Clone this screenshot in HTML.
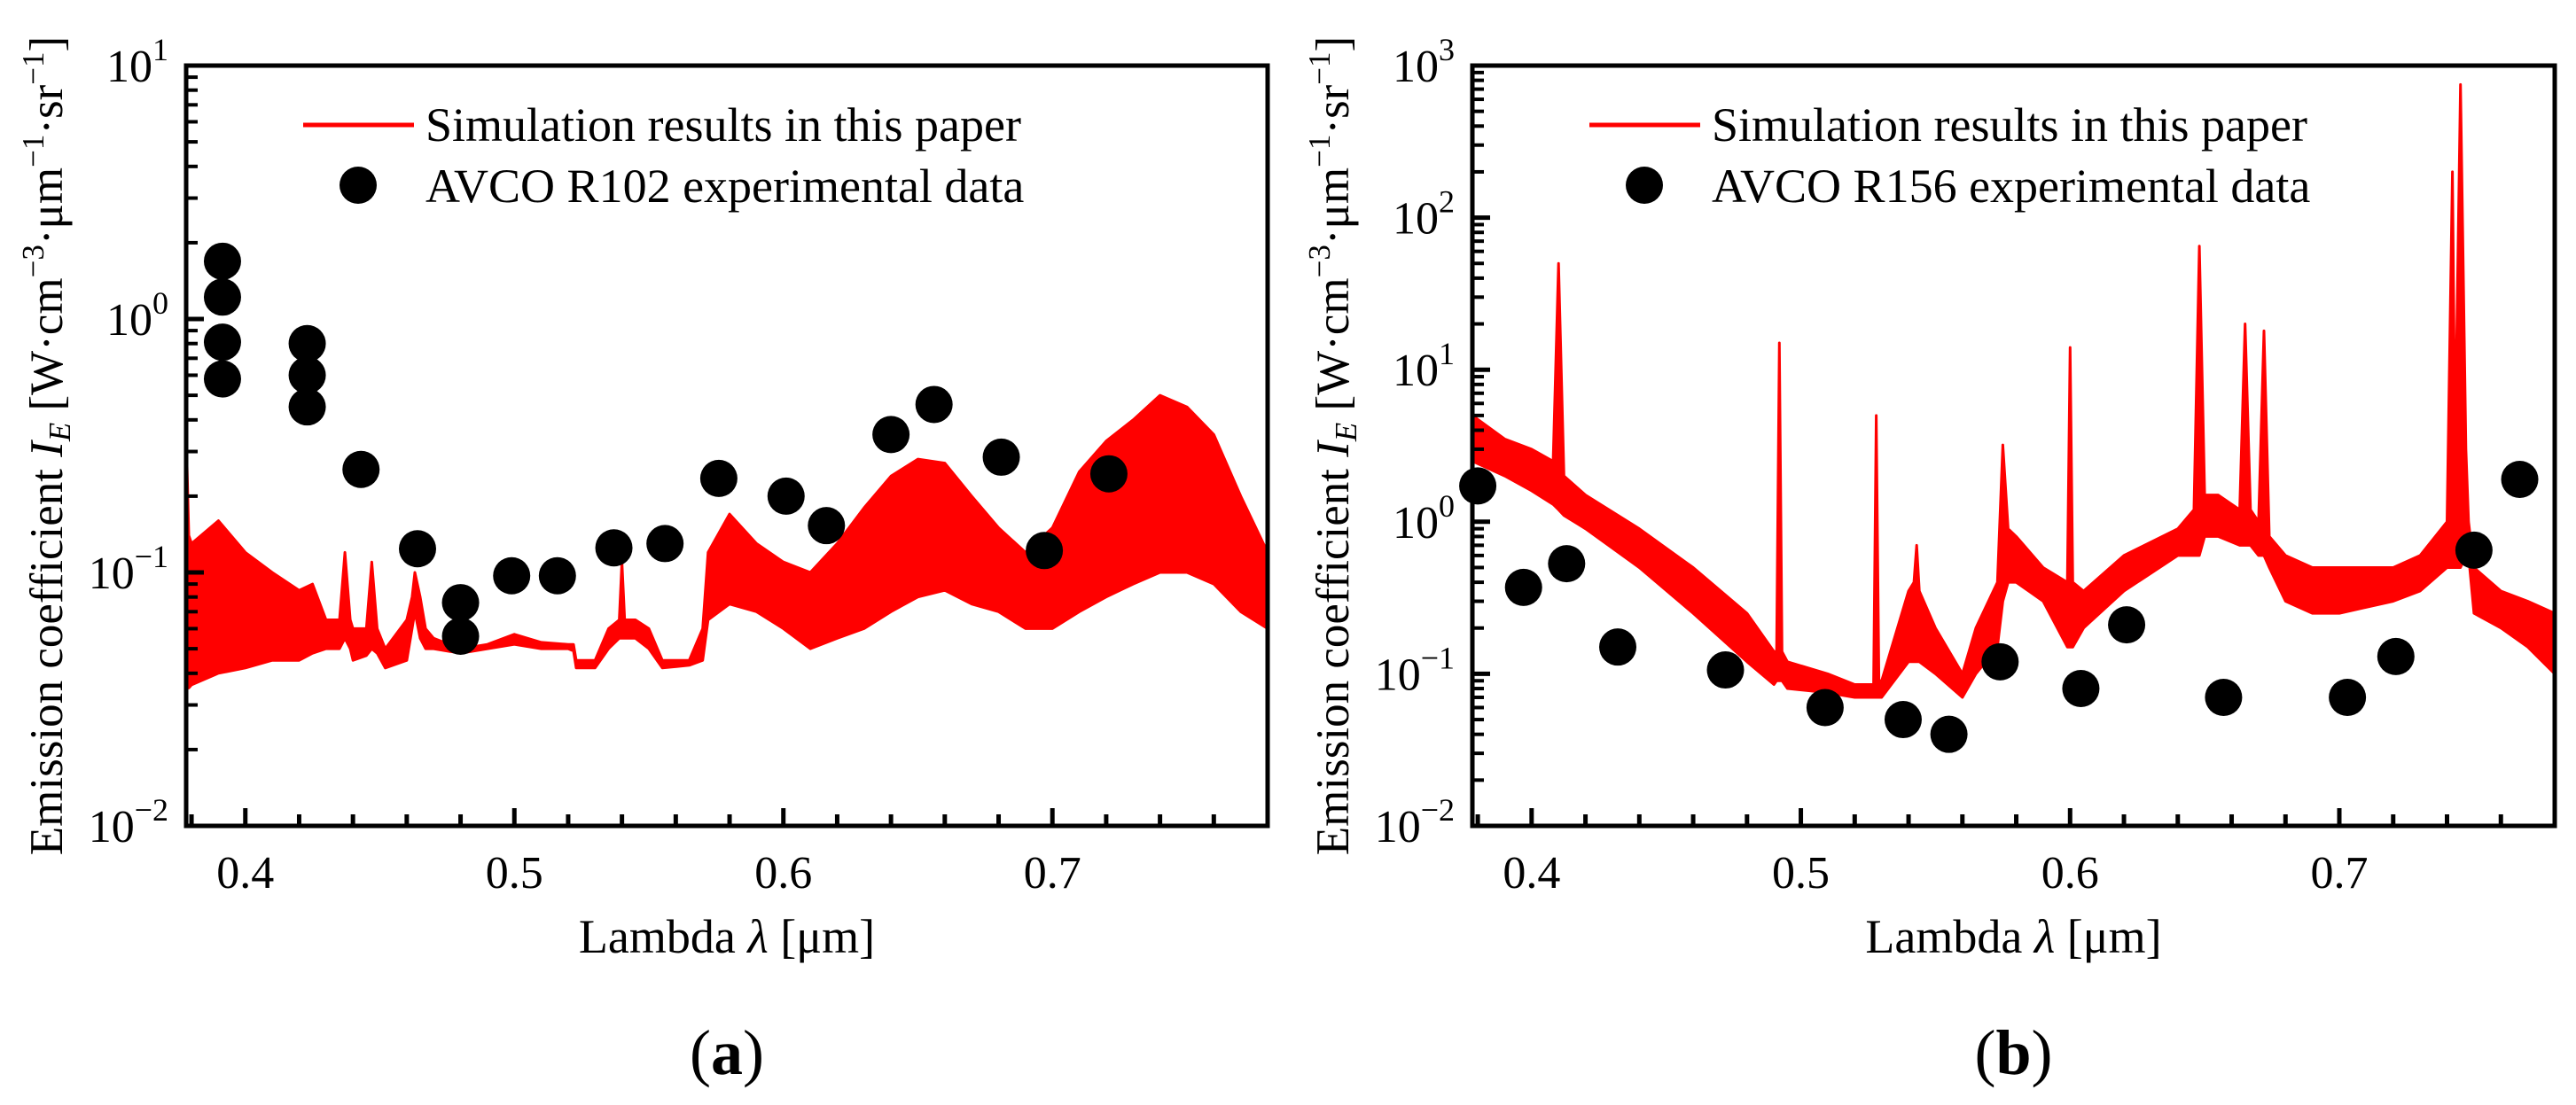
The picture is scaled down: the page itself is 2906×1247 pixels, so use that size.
<!DOCTYPE html>
<html><head><meta charset="utf-8">
<style>
html,body{margin:0;padding:0;background:#fff;}
svg{display:block;font-family:"Liberation Serif",serif;}
</style></head>
<body>
<svg id="fig" width="2906" height="1247" viewBox="0 0 2906 1247" xmlns="http://www.w3.org/2000/svg"></svg>
<script>
// ---------- Panel (a) data ----------
const aExpX = [0.3915,0.3915,0.3915,0.3915,0.423,0.423,0.423,0.443,0.464,0.480,0.480,0.499,0.516,0.537,0.556,0.576,0.601,0.616,0.640,0.656,0.681,0.697,0.721];
const aExpY = [0.58,1.69,1.22,0.81,0.80,0.60,0.45,0.255,0.124,0.076,0.056,0.097,0.097,0.125,0.13,0.235,0.20,0.153,0.35,0.46,0.285,0.122,0.245];
const aSimX  = [0.378,0.379,0.38,0.39,0.40,0.41,0.42,0.425,0.43,0.435,0.437,0.439,0.44,0.445,0.447,0.449,0.452,0.46,0.462,0.463,0.465,0.467,0.47,0.48,0.49,0.50,0.51,0.52,0.522,0.523,0.53,0.535,0.539,0.540,0.541,0.545,0.55,0.555,0.565,0.57,0.572,0.58,0.59,0.60,0.61,0.62,0.63,0.64,0.65,0.66,0.67,0.68,0.69,0.70,0.71,0.72,0.73,0.74,0.75,0.76,0.77,0.78];
const aSimHi = [0.36,0.14,0.13,0.16,0.12,0.10,0.085,0.09,0.065,0.065,0.12,0.065,0.06,0.06,0.11,0.06,0.05,0.065,0.08,0.10,0.08,0.06,0.055,0.05,0.052,0.057,0.053,0.052,0.052,0.045,0.045,0.06,0.065,0.11,0.065,0.065,0.06,0.045,0.045,0.06,0.12,0.17,0.13,0.11,0.10,0.13,0.18,0.24,0.28,0.27,0.20,0.15,0.12,0.15,0.25,0.33,0.40,0.50,0.45,0.35,0.20,0.12];
const aSimLo = [0.035,0.035,0.036,0.04,0.042,0.045,0.045,0.048,0.05,0.05,0.055,0.05,0.045,0.047,0.05,0.048,0.042,0.045,0.06,0.07,0.055,0.05,0.05,0.048,0.05,0.052,0.05,0.05,0.049,0.042,0.042,0.05,0.055,0.055,0.055,0.055,0.05,0.042,0.043,0.045,0.065,0.075,0.07,0.06,0.05,0.055,0.06,0.07,0.08,0.085,0.075,0.07,0.06,0.06,0.07,0.08,0.09,0.10,0.10,0.09,0.07,0.06];
// ---------- Panel (b) data ----------
const bExpX = [0.380,0.397,0.413,0.432,0.472,0.509,0.538,0.555,0.574,0.604,0.621,0.657,0.703,0.721,0.750,0.767];
const bExpY = [1.72,0.37,0.53,0.15,0.106,0.06,0.05,0.04,0.12,0.08,0.21,0.07,0.07,0.13,0.65,1.9];
const bSimX  = [0.378,0.39,0.40,0.408,0.410,0.412,0.42,0.44,0.46,0.48,0.49,0.491,0.492,0.493,0.495,0.51,0.52,0.527,0.528,0.529,0.53,0.54,0.542,0.543,0.544,0.55,0.56,0.565,0.573,0.575,0.577,0.58,0.59,0.599,0.600,0.601,0.605,0.62,0.64,0.646,0.648,0.650,0.655,0.663,0.665,0.667,0.670,0.672,0.674,0.68,0.69,0.70,0.72,0.73,0.74,0.742,0.743,0.745,0.747,0.748,0.75,0.76,0.77,0.78];
const bSimHi = [5,3.5,3,2.5,50,2,1.5,0.9,0.5,0.25,0.14,0.14,15,0.14,0.12,0.1,0.085,0.085,5,0.09,0.09,0.35,0.4,0.7,0.35,0.2,0.1,0.2,0.4,3.2,0.9,0.8,0.5,0.4,14,0.4,0.35,0.6,0.9,1.2,65,1.5,1.5,1.2,20,1.2,1.0,18,0.8,0.6,0.5,0.5,0.5,0.6,1.0,200,3,750,3,1.0,0.5,0.35,0.3,0.25];
const bSimLo = [2.5,2,1.6,1.3,1.2,1.1,0.9,0.5,0.25,0.12,0.085,0.09,0.09,0.09,0.08,0.075,0.07,0.07,0.07,0.07,0.07,0.12,0.12,0.12,0.12,0.1,0.07,0.1,0.15,0.3,0.4,0.4,0.3,0.15,0.15,0.15,0.2,0.35,0.6,0.6,0.6,0.8,0.8,0.7,0.7,0.7,0.6,0.6,0.5,0.3,0.25,0.25,0.3,0.35,0.5,0.5,0.5,0.5,0.6,0.6,0.25,0.2,0.15,0.1];
const xTicks = [0.4,0.5,0.6,0.7];
const xTickLabels = ["0.4","0.5","0.6","0.7"];

const NS="http://www.w3.org/2000/svg";
const svg=document.getElementById('fig');
function mk(tag,attrs,parent){const e=document.createElementNS(NS,tag);for(const k in attrs)e.setAttribute(k,attrs[k]);(parent||svg).appendChild(e);return e;}

function panel(opt){
  const L=opt.left,R=opt.right,T=74,B=932;
  const xmin=0.378,xmax=0.78;
  const xs=v=>L+(v-xmin)/(xmax-xmin)*(R-L);
  const ys=v=>B-(Math.log10(v)-opt.dmin)/(opt.dmax-opt.dmin)*(B-T);
  const g=mk('g',{});
  
  
  const cp=mk('clipPath',{id:'clip'+opt.id},g);
  mk('rect',{x:L,y:T,width:R-L,height:B-T},cp);
  let d='';
  opt.sx.forEach((x,i)=>{d+=(i?'L':'M')+xs(x).toFixed(1)+' '+ys(opt.hi[i]).toFixed(1);});
  for(let i=opt.sx.length-1;i>=0;i--){d+='L'+xs(opt.sx[i]).toFixed(1)+' '+ys(opt.lo[i]).toFixed(1);}
  d+='Z';
  const band=mk('path',{d:d,fill:'#ff0000',stroke:'#ff0000','stroke-width':3,'stroke-linejoin':'round','clip-path':'url(#clip'+opt.id+')'},g);
  
  
  opt.ex.forEach((x,i)=>{
    const c=mk('circle',{cx:xs(x),cy:ys(opt.ey[i]),r:21,fill:'#000'},g);
    
    
  });
  const fr=mk('rect',{x:L,y:T,width:R-L,height:B-T,fill:'none',stroke:'#000','stroke-width':5},g);
  
  
  for(let k=0;k<=20;k++){
    const v=0.38+k*0.02; if(v>xmax) break;
    const major=xTicks.some(t=>Math.abs(t-v)<1e-6);
    mk('line',{x1:xs(v),x2:xs(v),y1:B,y2:B-(major?20:13),stroke:'#000','stroke-width':5},g);
  }
  xTicks.forEach((v,i)=>{
    const t=mk('text',{x:xs(v),y:1002,'font-size':52,'text-anchor':'middle'},g);
    t.textContent=xTickLabels[i];
    
    
  });
  for(let dd=opt.dmin;dd<=opt.dmax;dd++){
    mk('line',{x1:L,x2:L+20,y1:ys(Math.pow(10,dd)),y2:ys(Math.pow(10,dd)),stroke:'#000','stroke-width':5},g);
    if(dd<opt.dmax) for(let m=2;m<=9;m++){
      const y=ys(m*Math.pow(10,dd));
      mk('line',{x1:L,x2:L+13,y1:y,y2:y,stroke:'#000','stroke-width':4},g);
    }
    const t=mk('text',{x:L-20,y:ys(Math.pow(10,dd))+18,'font-size':52,'text-anchor':'end'},g);
    
    
    const base=mk('tspan',{},t);base.textContent='10';
    const sup=mk('tspan',{dy:-24,'font-size':36},t);sup.textContent=(dd<0?'\u2212'+(-dd):''+dd);
  }
  const xt=mk('text',{x:(L+R)/2,y:1075,'font-size':54,'text-anchor':'middle'},g);
  
  
  let s=mk('tspan',{},xt);s.textContent='Lambda ';
  s=mk('tspan',{'font-style':'italic'},xt);s.textContent='\u03BB';
  s=mk('tspan',{},xt);s.textContent=' [\u03BCm]';
  const yt=mk('text',{x:0,y:0,'font-size':53,'text-anchor':'middle',transform:'translate('+(L-140)+',503) rotate(-90)'},g);
  
  
  s=mk('tspan',{},yt);s.textContent='Emission coefficient ';
  s=mk('tspan',{'font-style':'italic'},yt);s.textContent='I';
  s=mk('tspan',{'font-style':'italic','font-size':35,dy:9},yt);s.textContent='E';
  s=mk('tspan',{dy:-9},yt);s.textContent=' [W\u00B7cm';
  s=mk('tspan',{'font-size':35,dy:-21},yt);s.textContent='\u22123';
  s=mk('tspan',{dy:21},yt);s.textContent='\u00B7\u03BCm';
  s=mk('tspan',{'font-size':35,dy:-21},yt);s.textContent='\u22121';
  s=mk('tspan',{dy:21},yt);s.textContent='\u00B7sr';
  s=mk('tspan',{'font-size':35,dy:-21},yt);s.textContent='\u22121';
  s=mk('tspan',{dy:21},yt);s.textContent=']';
  const lg=mk('g',{},g);
  
  
  const ll=mk('line',{x1:L+132,x2:L+257,y1:141,y2:141,stroke:'#ff0000','stroke-width':5},lg);
  
  
  let lt=mk('text',{x:L+270,y:159,'font-size':54},lg);lt.textContent='Simulation results in this paper';
  
  
  const lc=mk('circle',{cx:L+194,cy:209,r:21,fill:'#000'},lg);
  
  
  lt=mk('text',{x:L+270,y:228,'font-size':54},lg);lt.textContent='AVCO '+opt.run+' experimental data';
  
  
  const pl=mk('text',{x:(L+R)/2,y:1212,'font-size':72,'text-anchor':'middle'},g);
  
  
  s=mk('tspan',{},pl);s.textContent='(';
  s=mk('tspan',{'font-weight':'bold'},pl);s.textContent=opt.id;
  s=mk('tspan',{},pl);s.textContent=')';
}
panel({id:'a',name:'panel-a',left:210,right:1430,dmin:-2,dmax:1,sx:aSimX,hi:aSimHi,lo:aSimLo,ex:aExpX,ey:aExpY,run:'R102'});
panel({id:'b',name:'panel-b',left:1661,right:2882,dmin:-2,dmax:3,sx:bSimX,hi:bSimHi,lo:bSimLo,ex:bExpX,ey:bExpY,run:'R156'});
</script>
</body></html>
